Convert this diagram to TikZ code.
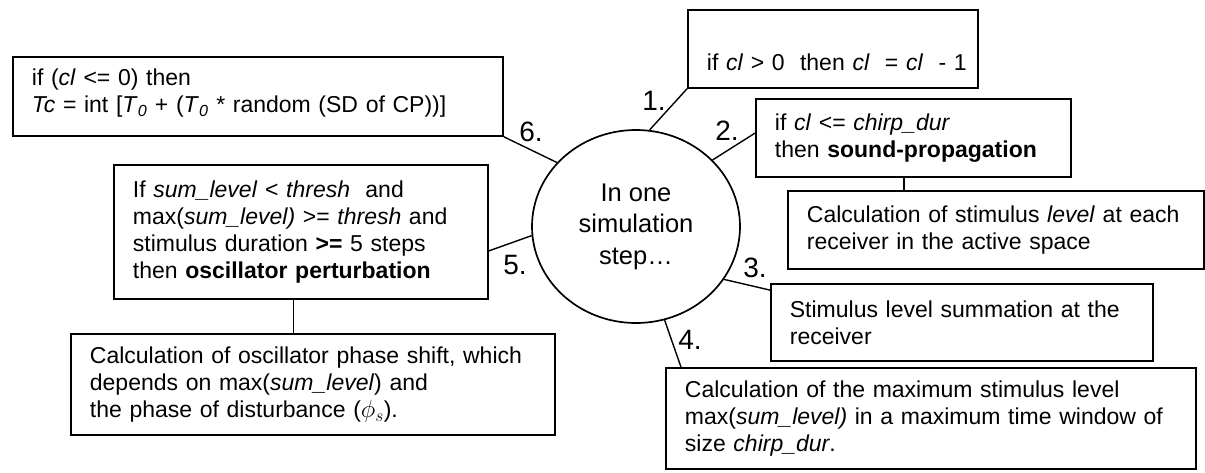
\documentclass[tikz,border=0pt]{standalone}
\usepackage{fontspec}
\setmainfont{Liberation Sans}
\usetikzlibrary{shapes.geometric,calc}
\newcommand{\boxfont}{\fontsize{23}{27}\selectfont}
\newcommand{\ellfont}{\fontsize{25.5}{31.5}\selectfont}
\newcommand{\lblfont}{\fontsize{28}{28}\selectfont}
\tikzset{
  x=1pt,y=-1pt,
  stepbox/.style={draw, line width=1.8pt, anchor=north west, inner xsep=19pt, inner ysep=0pt, align=left, font=\boxfont},
  conn/.style={line width=1.4pt},
  lbl/.style={font=\lblfont, inner sep=0pt},
}
\begin{document}
\begin{tikzpicture}
\useasboundingbox (0,0) rectangle (1205,472);
% centre
\node[ellipse, draw, line width=1.7pt, minimum width=208pt, minimum height=193pt, inner sep=0pt, align=center, font=\ellfont] (c) at (636,226.5) {In one\\simulation\\step…};
% boxes
\node[stepbox, text width=452pt, minimum height=79pt] (b6) at (12,56) {\raisebox{3pt}[\height][\depth]{if (\textit{cl} <= 0) then}\\\raisebox{3pt}[\height][\depth]{\textit{Tc} = int [\textit{T}\textsubscript{\textit{0}} + (\textit{T}\textsubscript{\textit{0}} * random (SD of CP))]}};
\node[stepbox, text width=252pt, minimum height=78pt] (b1) at (687,9) {\raisebox{-13pt}[\height][\depth]{if \textit{cl} > 0\ \ then \textit{cl}\ \ = \textit{cl}\ \ - 1}};
\node[stepbox, text width=277pt, minimum height=78pt] (b2) at (755,98) {if \textit{cl} <= \textit{chirp\_dur}\\then \textbf{sound-propagation}};
\node[stepbox, text width=378pt, minimum height=78pt] (bA) at (787,190) {\mbox{Calculation of stimulus \textit{level} at each}\\receiver in the active space};
\node[stepbox, text width=336pt, minimum height=134pt] (b5) at (113,164) {If \textit{sum\_level} < \textit{thresh}\ \ and\\max(\textit{sum\_level)} >= \textit{thresh} and\\stimulus duration \textbf{>=} 5 steps\\then \textbf{oscillator perturbation}};
\node[stepbox, text width=446pt, minimum height=101pt] (b5b) at (70,333) {Calculation of oscillator phase shift, which\\depends on max(\textit{sum\_level}) and\\the phase of disturbance ($\phi_s$).};
\node[stepbox, text width=344pt, minimum height=77pt] (b3) at (770,283) {Stimulus level summation at the\\receiver};
\node[stepbox, text width=492pt, minimum height=101pt] (b4) at (665,367) {Calculation of the maximum stimulus level\\\mbox{max(\textit{sum\_level)} in a maximum time window of}\\size \textit{chirp\_dur}.};
% labels
\node[lbl] (l1) at (654,101) {1.};
\node[lbl] (l2) at (727,131) {2.};
\node[lbl] (l3) at (755,268) {3.};
\node[lbl] (l4) at (690,340) {4.};
\node[lbl] (l5) at (515,265) {5.};
\node[lbl] (l6) at (531,132) {6.};
% connectors
\draw[conn] (c.82) -- (b1.south west);
\draw[conn] (c.41) -- ($(b2.north west)!0.44!(b2.south west)$);
\draw[conn] (b6.south east) -- (c.141);
\draw[conn] ($(b5.north east)!0.64!(b5.south east)$) -- (c.185);
\draw[conn] (c.-31) -- ($(b3.north west)!0.09!(b3.south west)$);
\draw[conn] (c.-73) -- ($(b4.north west)!0.03!(b4.north east)$);
\coordinate (d2) at ($(b2.south west)!0.47!(b2.south east)$);
\draw[conn] (d2) -- (d2 |- bA.north);
\coordinate (d5) at ($(b5.south west)!0.48!(b5.south east)$);
\draw[conn] (d5) -- (d5 |- b5b.north);
\end{tikzpicture}
\end{document}
